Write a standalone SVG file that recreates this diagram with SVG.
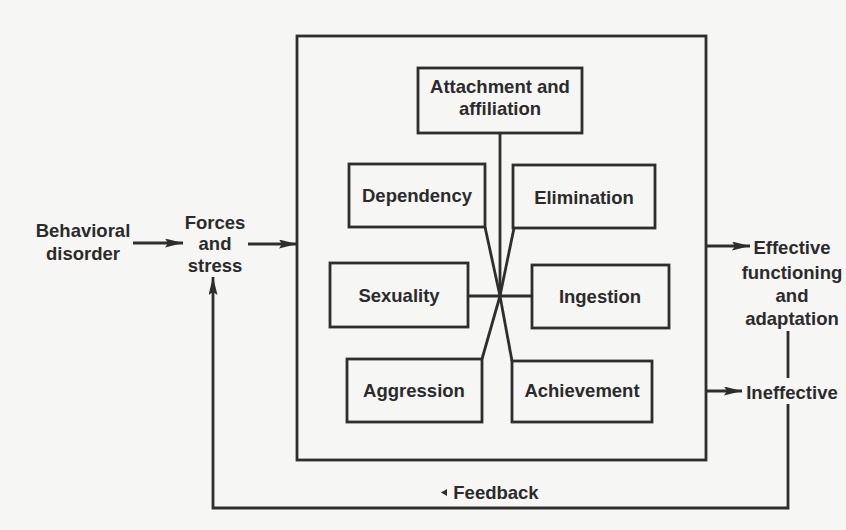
<svg xmlns="http://www.w3.org/2000/svg" width="846" height="530" viewBox="0 0 846 530">
<defs>
<marker id="ah" viewBox="0 0 18 9" refX="18" refY="4.5" markerWidth="18" markerHeight="9" markerUnits="userSpaceOnUse" orient="auto">
<path d="M0,0 L18,4.5 L0,9 L3,4.5 Z" fill="#2e2e2e"/>
</marker>
<style>
.bg{fill:#f6f6f4}
.box{fill:none;stroke:#2e2e2e;stroke-width:2.8}
.ln{fill:none;stroke:#2e2e2e;stroke-width:2.8}
.t{font-family:"Liberation Sans",Arial,sans-serif;font-weight:bold;font-size:18.5px;fill:#2b2b2b;text-anchor:middle;dominant-baseline:central}
</style>
</defs>
<rect class="bg" x="0" y="0" width="846" height="530"/>
<g id="connectors">
<line class="ln" x1="133" y1="243" x2="183" y2="243" marker-end="url(#ah)"/>
<line class="ln" x1="248" y1="244" x2="297" y2="244" marker-end="url(#ah)"/>
<line class="ln" x1="706" y1="246" x2="750" y2="246" marker-end="url(#ah)"/>
<line class="ln" x1="706" y1="391" x2="742" y2="391" marker-end="url(#ah)"/>
<line class="ln" x1="788" y1="331" x2="788" y2="378"/>
<polyline class="ln" points="788,404 788,508 213,508 213,277" marker-end="url(#ah)"/>
<line class="ln" x1="500" y1="133" x2="500" y2="296"/>
<line class="ln" x1="485" y1="227" x2="500" y2="296"/>
<line class="ln" x1="514" y1="228" x2="500" y2="296"/>
<line class="ln" x1="468" y1="296" x2="532" y2="296"/>
<line class="ln" x1="482" y1="359" x2="500" y2="296"/>
<line class="ln" x1="512" y1="361" x2="500" y2="296"/>
<path d="M447,489 L441,492.5 L447,496 Z" fill="#2e2e2e"/>
</g>
<g id="system">
<rect class="box" x="297" y="36" width="409" height="424"/>
</g>
<g id="behavioral"><text class="t" x="83" y="230">Behavioral</text><text class="t" x="83" y="253">disorder</text></g>
<g id="forces"><text class="t" x="215" y="222">Forces</text><text class="t" x="215" y="243">and</text><text class="t" x="215" y="265">stress</text></g>
<g id="attachment"><rect class="box" x="418" y="68" width="164" height="65"/><text class="t" x="500" y="86">Attachment and</text><text class="t" x="500" y="108">affiliation</text></g>
<g id="dependency"><rect class="box" x="349" y="164" width="136" height="63"/><text class="t" x="417" y="195">Dependency</text></g>
<g id="elimination"><rect class="box" x="513" y="165" width="142" height="63"/><text class="t" x="584" y="197">Elimination</text></g>
<g id="sexuality"><rect class="box" x="330" y="263" width="138" height="64"/><text class="t" x="399" y="295">Sexuality</text></g>
<g id="ingestion"><rect class="box" x="532" y="265" width="137" height="63"/><text class="t" x="600" y="296">Ingestion</text></g>
<g id="aggression"><rect class="box" x="347" y="359" width="135" height="63"/><text class="t" x="414" y="390">Aggression</text></g>
<g id="achievement"><rect class="box" x="512" y="361" width="140" height="61"/><text class="t" x="582" y="390">Achievement</text></g>
<g id="effective"><text class="t" x="792" y="247">Effective</text><text class="t" x="792" y="272">functioning</text><text class="t" x="792" y="295">and</text><text class="t" x="792" y="318">adaptation</text></g>
<g id="ineffective"><text class="t" x="792" y="392">Ineffective</text></g>
<g id="feedback"><text class="t" x="496" y="492">Feedback</text></g>
</svg>
